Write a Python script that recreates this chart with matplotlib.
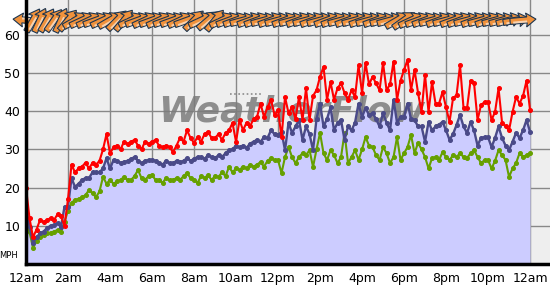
import numpy as np
import matplotlib
matplotlib.use("Agg")
import matplotlib.pyplot as plt
from matplotlib.patches import Polygon
from matplotlib.transforms import Affine2D, ScaledTranslation

# wind speed (mph), one sample every 10 minutes from 12am to 12am
gust = [
    20, 12, 7, 9, 11.5, 11,
    11.5, 12, 11.5, 13, 12.5, 10,
    17, 26, 24, 25, 25.5, 26.5,
    25, 26.5, 26, 27, 30, 34,
    29, 30.5, 31, 30, 32, 31.5,
    32, 32.5, 31, 30, 32, 31.5,
    32, 32.5, 31, 30.5, 31, 30.6,
    29.3, 31, 33, 32, 35, 33,
    31.7, 33.2, 32, 34, 34.6, 33,
    33, 34, 32.5, 34.3, 35, 36.9,
    32, 37.7, 35, 37, 36, 38,
    38.5, 42, 38.5, 41, 43, 39,
    40.3, 33.2, 43.7, 39.5, 41, 38,
    43.7, 37.7, 46, 37.7, 44, 45.5,
    49, 51.6, 43, 47.6, 43, 46,
    47.3, 44.8, 43, 45.5, 43.7, 52,
    44.8, 52.6, 47, 49, 47.3, 45.5,
    52.6, 45.5, 47, 53, 43, 48,
    50.8, 53.4, 45.5, 50.8, 44.8, 39.8,
    49.5, 39.8, 47.6, 42, 42, 45,
    41, 37.2, 43.4, 44.2, 52, 40.8,
    40.8, 48, 47.3, 37.7, 41.6, 42.4,
    42.4, 37.7, 39.8, 46, 37, 36,
    35, 39.8, 43.7, 42, 44, 48,
    40.3,
]
avg = [
    15, 9.7, 5.5, 7, 8, 8.5,
    9.4, 10, 10.2, 10.7, 9.7, 15,
    15, 22.5, 20.2, 21, 22, 22.5,
    22.5, 24, 24, 24, 25, 27.7,
    25, 27.2, 27, 26.5, 26.7, 27,
    27.5, 28, 27, 26.4, 27, 27.2,
    27.2, 27, 26.4, 26, 27, 26.4,
    26.4, 27, 26.6, 27, 27.7, 27,
    27.5, 28, 28, 27.5, 28.5, 28,
    27.7, 28.5, 28, 29, 29.8, 30,
    31, 30.5, 31, 30.4, 31.5, 32,
    32.5, 32, 33.2, 33, 35, 34,
    33.8, 34.6, 29.8, 37, 34.3, 36,
    37.7, 32.5, 36, 34, 29.8, 38,
    42, 36, 38, 41, 35, 37,
    37.7, 32.5, 36, 35, 37, 42,
    38.5, 40.8, 39, 39.5, 38, 36,
    39.5, 37, 35, 43, 37, 38.5,
    38.5, 42, 38, 37.7, 36, 36,
    32, 37.2, 35, 36, 36.5, 37.2,
    35, 32.5, 34, 36.4, 39, 36,
    34.3, 37.2, 35, 31, 33, 33.2,
    33.2, 30.6, 33, 36, 33, 31,
    29.8, 32, 34.3, 33, 35, 37.7,
    34.6,
]
lull = [
    10.7, 8.4, 4.2, 6, 7, 7.5,
    8, 8.2, 8.5, 8.9, 8.4, 11,
    14, 16, 16.8, 17, 17.5, 18,
    19.4, 18.5, 17.5, 19, 22.8, 21,
    22, 21, 21.6, 22, 22.8, 22,
    22, 23, 24.6, 22.5, 22, 23,
    23.3, 22, 22, 21.2, 22.5, 22,
    22, 22.5, 22, 23, 23.8, 22.5,
    22, 21.2, 23, 22.5, 23.3, 22,
    23, 22.8, 24, 23, 25.4, 24,
    25, 24.6, 25.5, 25, 26, 25.5,
    26, 26.7, 25.5, 27, 27.7, 27.2,
    27.2, 23.8, 28, 30.6, 28, 26.4,
    28, 29, 28.5, 29.8, 25.4, 30,
    34.3, 29, 27.2, 29.8, 28.5, 26.4,
    28, 34.3, 26.4, 28, 29.8, 27.2,
    30, 33.2, 31, 30.6, 28.5, 27.2,
    30.6, 29, 26.4, 28, 33.2, 27.2,
    29, 30.6, 33.8, 29, 31.7, 30,
    28, 25, 27.7, 28, 27.2, 29.3,
    28, 27.2, 28.5, 28, 29, 28,
    27.7, 29, 29.8, 28, 26.4, 27.2,
    27.2, 25, 27, 29.8, 28.5, 27.2,
    22.8, 25, 26.4, 29, 28, 28.5,
    29,
]
hours = np.arange(len(gust)) / 6.0

# wind heading of the arrows (degrees, 0 = pointing right), every 20 minutes
wind_dir = [
    175, 60, 65, 60, 55, 65, 50, 30, 25, 25, 20, 25,
    30, 45, 50, 25, 20, 25, 20, 25, 20, 20, 25, 20,
    45, 25, 40, 50, 25, 20, 20, 15, 20, 20, 15, 20,
    15, 20, 15, 20, 15, 20, 15, 20, 20, 15, 20, 15,
    20, 15, 20, 15, 15, 30, 35, 25, 20, 20, 15, 20,
    15, 20, 20, 15, 20, 15, 20, 15, 15, 15, 10, 5,
]
wind_hours = np.arange(len(wind_dir)) / 3.0

tick_hours = list(range(0, 25, 2))
tick_labels = ["12am", "2am", "4am", "6am", "8am", "10am", "12pm",
               "2pm", "4pm", "6pm", "8pm", "10pm", "12am"]
y_ticks = [10, 20, 30, 40, 50, 60]

fig = plt.figure(figsize=(5.5, 2.85), dpi=100)
ax = fig.add_axes([26 / 550, 21 / 285, 524 / 550, 264 / 285])
ax.set_facecolor("#eeeeee")
ax.set_xlim(0, 24.95)
ax.set_ylim(0, 69.1)

ax.set_xticks(tick_hours)
ax.set_xticklabels(tick_labels, fontsize=9)
ax.set_yticks(y_ticks)
ax.set_yticklabels([str(v) for v in y_ticks], fontsize=9)
ax.tick_params(axis="y", length=0, pad=4)
ax.tick_params(axis="x", length=0, pad=6)
ax.grid(True, color="#888888", linewidth=1)
ax.set_axisbelow(True)
for side in ("top", "right"):
    ax.spines[side].set_visible(False)
for side in ("left", "bottom"):
    ax.spines[side].set_linewidth(2.5)
    ax.spines[side].set_color("black")
    ax.spines[side].set_zorder(6)

ax.fill_between(hours, 0, avg, color="#ccccff", linewidth=0, zorder=1.5)

# watermark
ax.text(6.3, 37.3, "WeatherFlow", fontsize=26, fontweight="bold", style="italic",
        color="#7c7c7c", alpha=0.85, zorder=2, va="baseline", ha="left")
ax.plot([9.7, 11.3], [44.6, 44.6], linestyle=(0, (1, 1.5)), color="#8a8a8a",
        linewidth=1.2, zorder=2)

ax.plot(hours, lull, color="#66a000", linewidth=1.5, marker="o", markersize=2.6, zorder=3)
ax.plot(hours, avg, color="#4a4a88", linewidth=1.7, marker="o", markersize=2.6, zorder=3.5)
ax.plot(hours, gust, color="#ff0000", linewidth=1.5, marker="o", markersize=2.6, zorder=4)

# wind direction arrows along the top
arrow_shape = np.array([(-13, -3), (4, -3), (3, -7), (13, 0), (3, 7), (4, 3), (-13, 3)])
inner = np.array([(-10, -2.6), (4, -2.6), (4, -0.5), (-10, -0.5)])
for h, d in zip(wind_hours, wind_dir):
    tr = Affine2D().rotate_deg(d) + ScaledTranslation(h, 63.8, ax.transData)
    ax.add_patch(Polygon(arrow_shape, closed=True, facecolor="#f0923c",
                         edgecolor="#1c3550", linewidth=0.8, transform=tr,
                         clip_on=False, zorder=5))
    ax.add_patch(Polygon(inner, closed=True, facecolor="white", edgecolor="none",
                         alpha=0.6, transform=tr, clip_on=False, zorder=5))

fig.text(9 / 550, 1 - 256 / 285, "MPH", fontsize=6, ha="center", va="center")

fig.savefig("out.png", dpi=100)
